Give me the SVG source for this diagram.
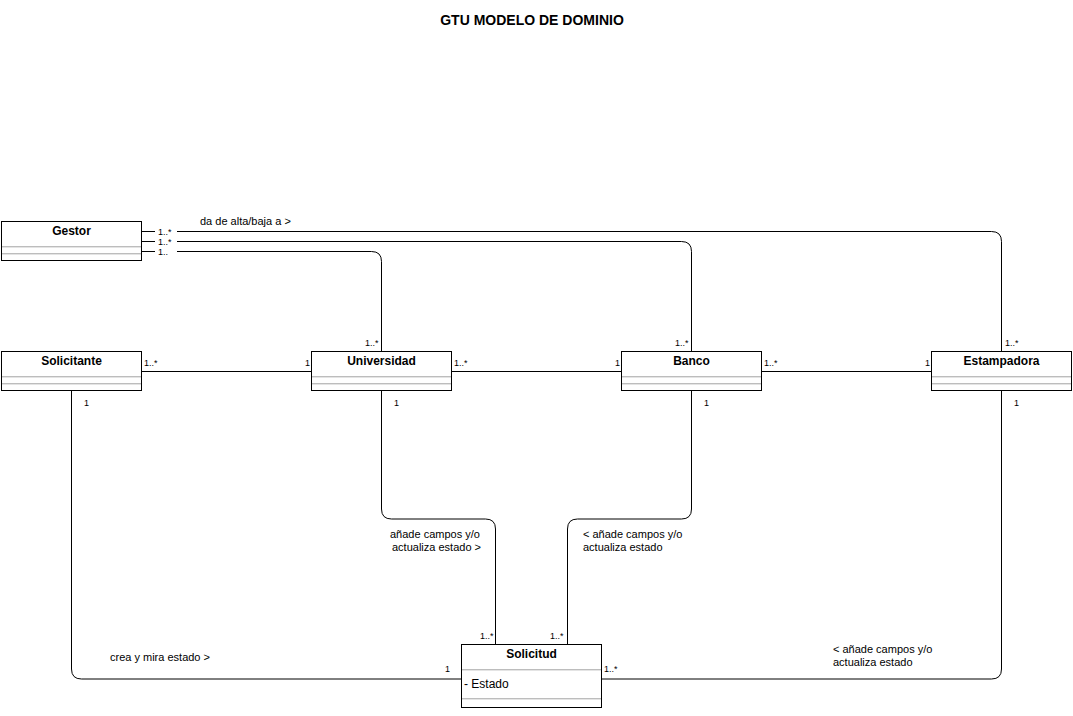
<svg xmlns="http://www.w3.org/2000/svg" width="1073" height="716" viewBox="0 0 1073 716">
<style>
text{font-family:"Liberation Sans",Arial,sans-serif;fill:#000}
.title{font-size:14px;font-weight:bold;text-anchor:middle}
.name{font-size:12px;font-weight:bold;text-anchor:middle}
.lbl{font-size:11px}
.m{font-size:9px}
.box{fill:#fff;stroke:#000;stroke-width:1}
.sep{stroke:#bdbdbd;stroke-width:1}
.sep2{stroke:#e4e4e4;stroke-width:1}
.conn{fill:none;stroke:#000;stroke-width:1}
</style>
<rect width="1073" height="716" fill="#fff"/>
<text class="title" x="532" y="25">GTU MODELO DE DOMINIO</text>

<g id="connectors">
<path class="conn" d="M142,231.5 H991.5 Q1001.5,231.5 1001.5,241.5 V351"/>
<path class="conn" d="M142,241.5 H681.5 Q691.5,241.5 691.5,251.5 V351"/>
<path class="conn" d="M142,251.5 H371.5 Q381.5,251.5 381.5,261.5 V351"/>
<path class="conn" d="M142,371.5 H311.5"/>
<path class="conn" d="M452,371.5 H621.5"/>
<path class="conn" d="M762,371.5 H931.5"/>
<path class="conn" d="M381.5,391 V509 Q381.5,519 391.5,519 H485.5 Q495.5,519 495.5,529 V644.5"/>
<path class="conn" d="M691.5,391 V509 Q691.5,519 681.5,519 H577.5 Q567.5,519 567.5,529 V644.5"/>
<path class="conn" d="M71.5,391 V669 Q71.5,679 81.5,679 H461.5"/>
<path class="conn" d="M601.5,679 H991.5 Q1001.5,679 1001.5,669 V391"/>
<rect x="155" y="226" width="22" height="10" fill="#fff"/>
<rect x="155" y="236" width="22" height="10" fill="#fff"/>
<rect x="155" y="246" width="22" height="10" fill="#fff"/>
<text class="m" x="158" y="235">1..*</text>
<text class="m" x="158" y="245">1..*</text>
<text class="m" x="158" y="255">1..</text>
<text class="lbl" x="200" y="225">da de alta/baja a &gt;</text>
<text class="m" x="365" y="346">1..*</text>
<text class="m" x="675" y="346">1..*</text>
<text class="m" x="1005" y="346">1..*</text>
<text class="m" x="144" y="366">1..*</text>
<text class="m" x="305" y="366">1</text>
<text class="m" x="454" y="366">1..*</text>
<text class="m" x="615" y="366">1</text>
<text class="m" x="764" y="366">1..*</text>
<text class="m" x="925" y="366">1</text>
<text class="m" x="84" y="406">1</text>
<text class="m" x="394" y="406">1</text>
<text class="m" x="704" y="406">1</text>
<text class="m" x="1014" y="406">1</text>
<text class="lbl" x="390" y="538">añade campos y/o</text>
<text class="lbl" x="392" y="551">actualiza estado &gt;</text>
<text class="lbl" x="583" y="538">&lt; añade campos y/o</text>
<text class="lbl" x="583" y="551">actualiza estado</text>
<text class="m" x="480" y="639">1..*</text>
<text class="m" x="550" y="639">1..*</text>
<text class="m" x="445" y="672">1</text>
<text class="m" x="604" y="672">1..*</text>
<text class="lbl" x="110" y="661">crea y mira estado &gt;</text>
<text class="lbl" x="833" y="653">&lt; añade campos y/o</text>
<text class="lbl" x="833" y="666">actualiza estado</text>
</g>

<g id="gestor">
<rect class="box" x="1.5" y="221.5" width="140" height="39"/>
<line class="sep" x1="2" y1="246.5" x2="141" y2="246.5"/>
<line class="sep2" x1="2" y1="247.5" x2="141" y2="247.5"/>
<line class="sep" x1="2" y1="253.5" x2="141" y2="253.5"/>
<line class="sep2" x1="2" y1="254.5" x2="141" y2="254.5"/>
<text class="name" x="71.5" y="235">Gestor</text>
</g>

<g id="solicitante">
<rect class="box" x="1.5" y="351.5" width="140" height="39"/>
<line class="sep" x1="2" y1="376.5" x2="141" y2="376.5"/>
<line class="sep2" x1="2" y1="377.5" x2="141" y2="377.5"/>
<line class="sep" x1="2" y1="383.5" x2="141" y2="383.5"/>
<line class="sep2" x1="2" y1="384.5" x2="141" y2="384.5"/>
<text class="name" x="71.5" y="365">Solicitante</text>
</g>

<g id="universidad">
<rect class="box" x="311.5" y="351.5" width="140" height="39"/>
<line class="sep" x1="312" y1="376.5" x2="451" y2="376.5"/>
<line class="sep2" x1="312" y1="377.5" x2="451" y2="377.5"/>
<line class="sep" x1="312" y1="383.5" x2="451" y2="383.5"/>
<line class="sep2" x1="312" y1="384.5" x2="451" y2="384.5"/>
<text class="name" x="381.5" y="365">Universidad</text>
</g>

<g id="banco">
<rect class="box" x="621.5" y="351.5" width="140" height="39"/>
<line class="sep" x1="622" y1="376.5" x2="761" y2="376.5"/>
<line class="sep2" x1="622" y1="377.5" x2="761" y2="377.5"/>
<line class="sep" x1="622" y1="383.5" x2="761" y2="383.5"/>
<line class="sep2" x1="622" y1="384.5" x2="761" y2="384.5"/>
<text class="name" x="691.5" y="365">Banco</text>
</g>

<g id="estampadora">
<rect class="box" x="931.5" y="351.5" width="140" height="39"/>
<line class="sep" x1="932" y1="376.5" x2="1071" y2="376.5"/>
<line class="sep2" x1="932" y1="377.5" x2="1071" y2="377.5"/>
<line class="sep" x1="932" y1="383.5" x2="1071" y2="383.5"/>
<line class="sep2" x1="932" y1="384.5" x2="1071" y2="384.5"/>
<text class="name" x="1001.5" y="365">Estampadora</text>
</g>

<g id="solicitud">
<rect class="box" x="461.5" y="644.5" width="140" height="63"/>
<line class="sep" x1="462" y1="669.5" x2="601" y2="669.5"/>
<line class="sep2" x1="462" y1="670.5" x2="601" y2="670.5"/>
<line class="sep" x1="462" y1="698.5" x2="601" y2="698.5"/>
<line class="sep2" x1="462" y1="699.5" x2="601" y2="699.5"/>
<text class="name" x="531.5" y="658">Solicitud</text>
<text x="464" y="688" style="font-size:12px">- Estado</text>
</g>
</svg>
